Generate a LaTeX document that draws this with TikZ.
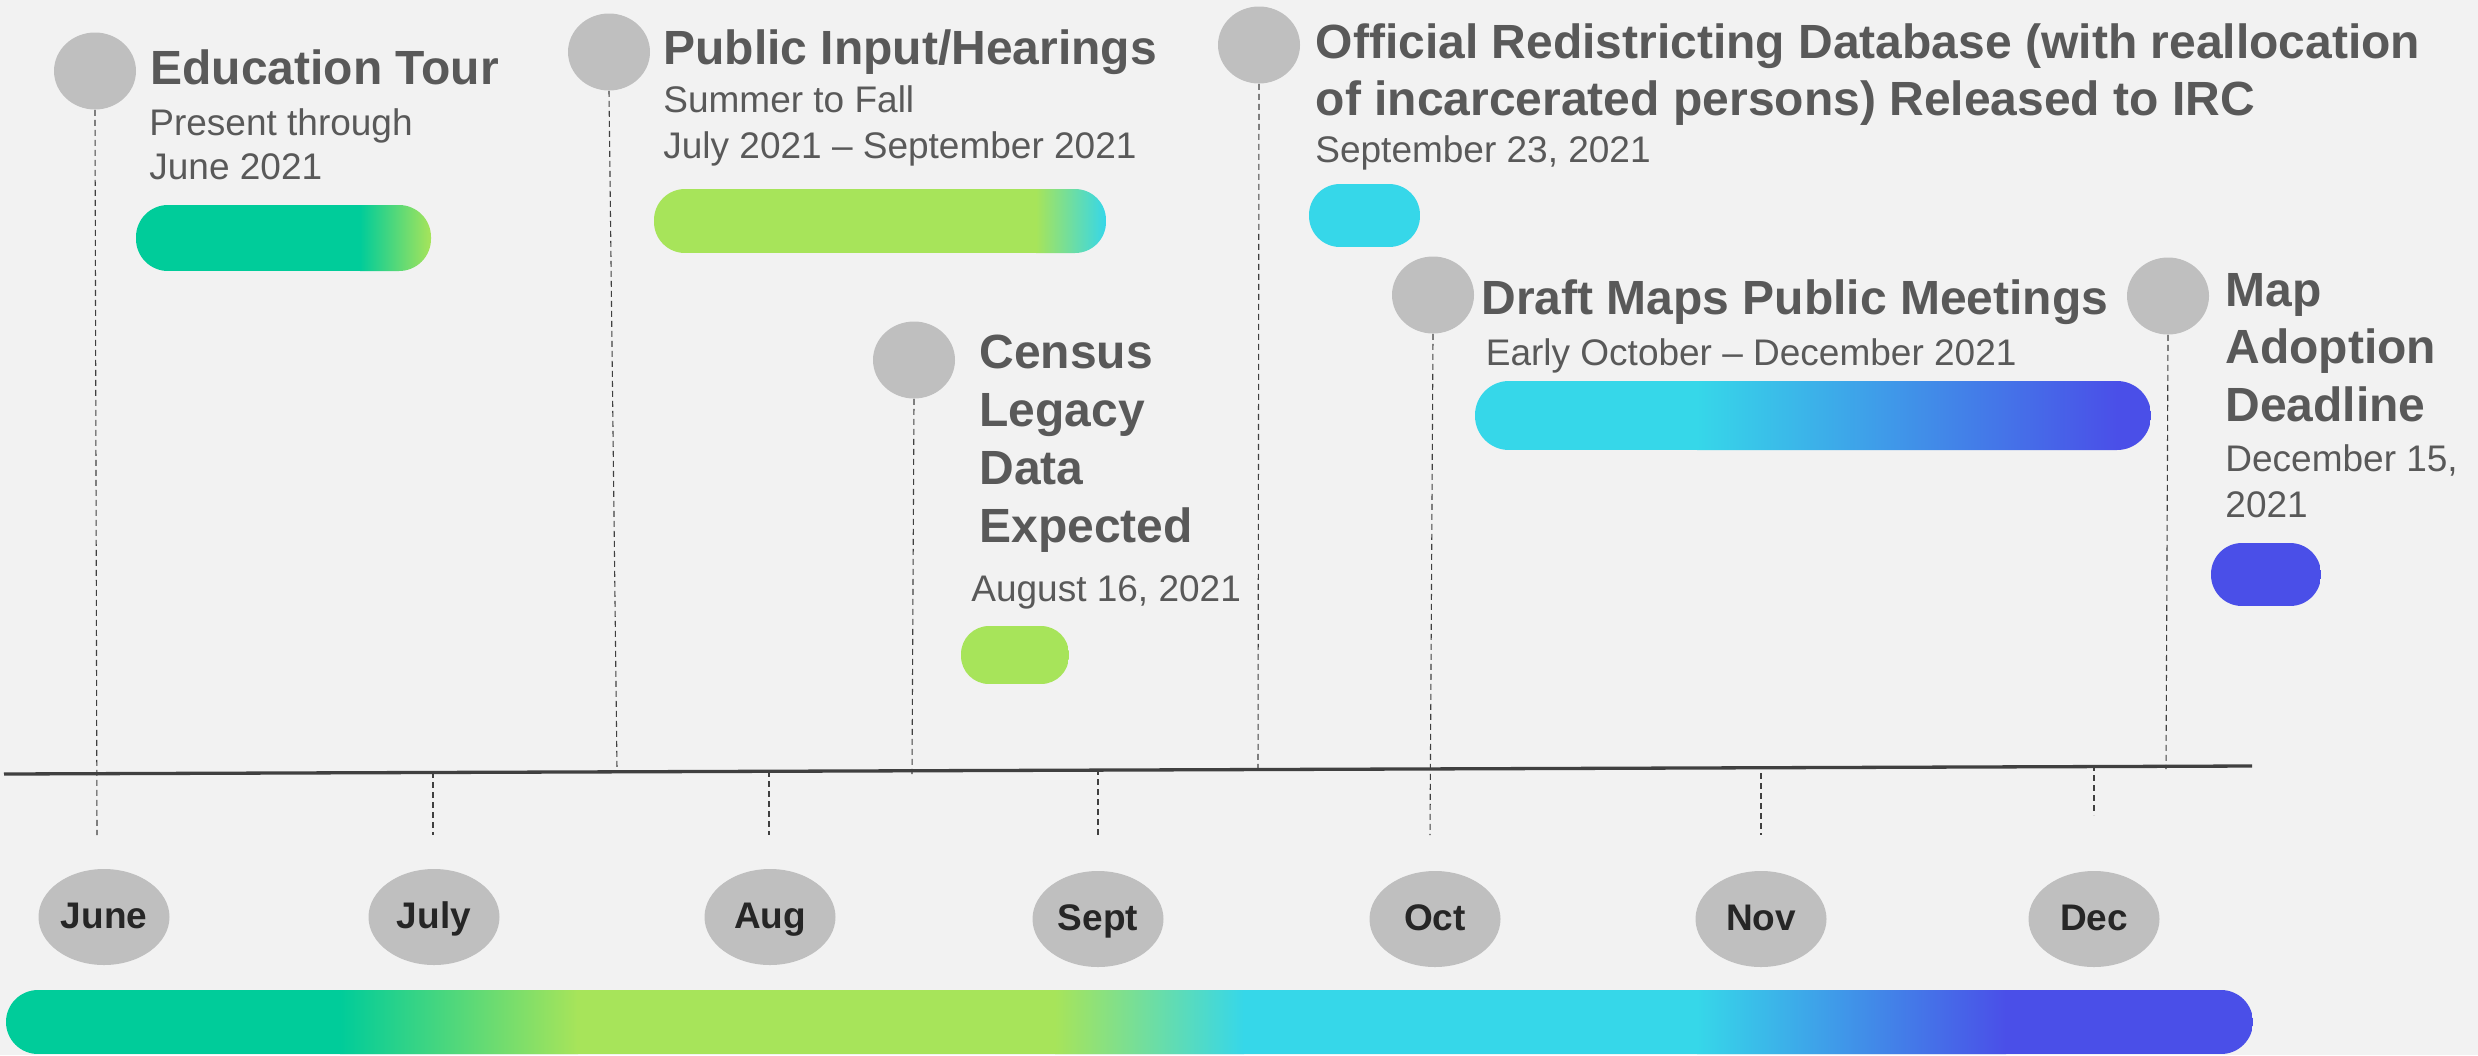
\documentclass[tikz,border=0pt]{standalone}
\usepackage{fontspec}
\setmainfont{Liberation Sans}
\usetikzlibrary{shapes.geometric}
\definecolor{bg}{HTML}{F2F2F2}
\definecolor{circ}{HTML}{BFBFBF}
\definecolor{txt}{HTML}{595959}
\definecolor{mon}{HTML}{262626}
\definecolor{ln}{HTML}{404040}
\definecolor{cteal}{HTML}{00CC9A}
\definecolor{clime}{HTML}{A7E45A}
\definecolor{ccyan}{HTML}{36D7E9}
\definecolor{cviolet}{HTML}{4A4FE8}
\tikzset{
  evtdot/.style={ellipse, fill=circ, minimum width=41pt, minimum height=38.5pt, inner sep=0pt},
  monthnode/.style={ellipse, fill=circ, minimum width=65.5pt, minimum height=48pt, inner sep=0pt,
    font=\bfseries\fontsize{18.5}{22}\selectfont, text=mon, text height=11.5pt, text depth=0pt},
  ttl/.style={anchor=base west, inner sep=0pt, font=\bfseries\fontsize{24}{29}\selectfont, text=txt},
  subtxt/.style={anchor=base west, inner sep=0pt, font=\fontsize{18.5}{22.5}\selectfont, text=txt},
  dashline/.style={draw=ln, line width=0.55pt, dash pattern=on 3pt off 2pt},
  axisline/.style={draw=ln, line width=1.65pt},
}
\begin{document}
\begin{tikzpicture}[x=0.5pt, y=-0.5pt]
\useasboundingbox (0,0) rectangle (2478,1055);
\fill[bg] (0,0) rectangle (2478,1055);

% ---- bars ----
\begin{scope}
  \clip[rounded corners=16pt] (136,205) rectangle (431,271);
  \fill[cteal] (136,205) rectangle (361,271);
  \shade[left color=cteal, right color=clime] (360,205) rectangle (431,271);
\end{scope}
\begin{scope}
  \clip[rounded corners=15.5pt] (654,189) rectangle (1106,253);
  \fill[clime] (654,189) rectangle (1037,253);
  \shade[left color=clime, right color=ccyan] (1036,189) rectangle (1106,253);
\end{scope}
\begin{scope}
  \clip[rounded corners=14pt] (961,626) rectangle (1069,684);
  \fill[clime] (961,626) rectangle (1069,684);
\end{scope}
\begin{scope}
  \clip[rounded corners=15.5pt] (1309,184) rectangle (1420,247);
  \fill[ccyan] (1309,184) rectangle (1420,247);
\end{scope}
\begin{scope}
  \clip[rounded corners=17pt] (1475,381) rectangle (2151,450);
  \fill[ccyan] (1475,381) rectangle (1698,450);
  \shade[left color=ccyan, right color=cviolet] (1697,381) rectangle (2117,450);
  \fill[cviolet] (2116,381) rectangle (2151,450);
\end{scope}
\begin{scope}
  \clip[rounded corners=15.5pt] (2211,543) rectangle (2321,606);
  \fill[cviolet] (2211,543) rectangle (2321,606);
\end{scope}
\begin{scope}
  \clip[rounded corners=16pt] (6,990) rectangle (2253,1054);
  \fill[cteal] (6,990) rectangle (341,1054);
  \shade[left color=cteal, right color=clime] (340,990) rectangle (578,1054);
  \fill[clime] (577,990) rectangle (1056,1054);
  \shade[left color=clime, right color=ccyan] (1055,990) rectangle (1244,1054);
  \fill[ccyan] (1243,990) rectangle (1698,1054);
  \shade[left color=ccyan, right color=cviolet] (1697,990) rectangle (2006,1054);
  \fill[cviolet] (2005,990) rectangle (2253,1054);
\end{scope}

% ---- axis ----
\coordinate (ax-l) at (4,774);
\coordinate (ax-r) at (2252,766);
\draw[axisline] (ax-l) -- (ax-r);

% ---- event markers ----
\node[evtdot] (edu) at (95,71) {};
\node[evtdot] (pub) at (609,52) {};
\node[evtdot] (cen) at (914,360) {};
\node[evtdot] (off) at (1259,45) {};
\node[evtdot] (dra) at (1433,295) {};
\node[evtdot] (map) at (2168,296) {};

\coordinate (edu-end) at (97,835);
\coordinate (pub-end) at (617,770);
\coordinate (cen-end) at (912,774);
\coordinate (off-end) at (1258,773);
\coordinate (dra-end) at (1430,835);
\coordinate (map-end) at (2166,769);
\draw[dashline] (edu.south) -- (edu-end);
\draw[dashline] (pub.south) -- (pub-end);
\draw[dashline] (cen.south) -- (cen-end);
\draw[dashline] (off.south) -- (off-end);
\draw[dashline] (dra.south) -- (dra-end);
\draw[dashline] (map.south) -- (map-end);

% ---- month ticks ----
\coordinate (jul-a) at (433,772); \coordinate (jul-b) at (433,835);
\coordinate (aug-a) at (769,771); \coordinate (aug-b) at (769,835);
\coordinate (sep-a) at (1098,769); \coordinate (sep-b) at (1098,835);
\coordinate (nov-a) at (1761,773); \coordinate (nov-b) at (1761,835);
\coordinate (dec-a) at (2094,765); \coordinate (dec-b) at (2094,815);
\draw[dashline] (jul-a) -- (jul-b);
\draw[dashline] (aug-a) -- (aug-b);
\draw[dashline] (sep-a) -- (sep-b);
\draw[dashline] (nov-a) -- (nov-b);
\draw[dashline] (dec-a) -- (dec-b);

% ---- month labels ----
\node[monthnode] (m-jun) at (104,917) {June};
\node[monthnode] (m-jul) at (434,917) {July};
\node[monthnode] (m-aug) at (770,917) {Aug};
\node[monthnode] (m-sep) at (1098,919) {Sept};
\node[monthnode] (m-oct) at (1435,919) {Oct};
\node[monthnode] (m-nov) at (1761,919) {Nov};
\node[monthnode] (m-dec) at (2094,919) {Dec};

% ---- texts ----
\node[ttl] (edu-t) at (150,84.5) {Education Tour};
\node[subtxt] (edu-s1) at (149,135) {Present through};
\node[subtxt] (edu-s2) at (149,179) {June 2021};

\node[ttl] (pub-t) at (663,64) {Public Input/Hearings};
\node[subtxt] (pub-s1) at (663,112.6) {Summer to Fall};
\node[subtxt] (pub-s2) at (663,158) {July 2021 – September 2021};

\node[ttl] (cen-t1) at (979,368) {Census};
\node[ttl] (cen-t2) at (979,426) {Legacy};
\node[ttl] (cen-t3) at (979,484) {Data};
\node[ttl] (cen-t4) at (979,542) {Expected};
\node[subtxt] (cen-s) at (971,601) {August 16, 2021};

\node[ttl] (off-t1) at (1315.5,58) {Official Redistricting Database (with reallocation};
\node[ttl] (off-t2) at (1315.5,115) {of incarcerated persons) Released to IRC};
\node[subtxt] (off-s) at (1315,162) {September 23, 2021};

\node[ttl] (dra-t) at (1481,314) {Draft Maps Public Meetings};
\node[subtxt] (dra-s) at (1485.5,365) {Early October – December 2021};

\node[ttl] (map-t1) at (2225,306) {Map};
\node[ttl] (map-t2) at (2225,363) {Adoption};
\node[ttl] (map-t3) at (2225,421) {Deadline};
\node[subtxt] (map-s1) at (2225,471.5) {December 15,};
\node[subtxt] (map-s2) at (2225,517) {2021};
\end{tikzpicture}
\end{document}
